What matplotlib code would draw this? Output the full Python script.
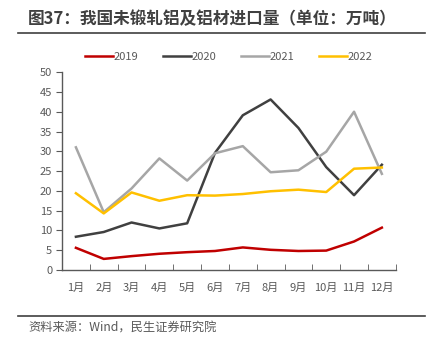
import numpy as np
import matplotlib.pyplot as plt
from matplotlib.lines import Line2D

plt.rcParams['font.family'] = ['Noto Sans CJK SC', 'DejaVu Sans']

months = ["1月", "2月", "3月", "4月", "5月", "6月",
          "7月", "8月", "9月", "10月", "11月", "12月"]
y2019 = [5.6, 2.8, 3.5, 4.1, 4.5, 4.8, 5.7, 5.1, 4.8, 4.9, 7.2, 10.7]
y2020 = [8.4, 9.6, 12.0, 10.5, 11.8, 29.6, 39.1, 43.1, 35.9, 26.0, 18.9, 26.6]
y2021 = [31.0, 14.6, 20.6, 28.2, 22.6, 29.5, 31.3, 24.7, 25.2, 29.9, 40.0, 24.3]
y2022 = [19.4, 14.3, 19.6, 17.5, 18.9, 18.8, 19.2, 19.9, 20.3, 19.7, 25.6, 25.9]

series = [("2019", y2019, "#C00000"),
          ("2020", y2020, "#404040"),
          ("2021", y2021, "#A6A6A6"),
          ("2022", y2022, "#FFC000")]

fig = plt.figure(figsize=(4.34, 3.52), dpi=100)
ax = fig.add_axes([0.1429, 0.233, 0.769, 0.562])

x = np.arange(len(months))
for name, vals, color in series:
    ax.plot(x, vals, color=color, lw=1.8, label=name)

ax.set_xlim(-0.5, 11.5)
ax.set_ylim(0, 50)
ax.set_yticks(range(0, 51, 5))
ax.set_xticks(x)
ax.set_xticklabels(months)
ax.set_xticks(np.arange(-0.5, 12, 1), minor=True)
ax.tick_params(axis='x', which='major', length=0, pad=9,
               labelsize=8, labelcolor="#595959")
ax.tick_params(axis='x', which='minor', length=4, direction='in',
               color="#595959")
ax.tick_params(axis='y', length=4, direction='out', color="#595959",
               labelsize=8, labelcolor="#595959", pad=3)

for s in ["top", "right"]:
    ax.spines[s].set_visible(False)
for s in ["left", "bottom"]:
    ax.spines[s].set_color("#595959")
    ax.spines[s].set_linewidth(1.0)

ax.legend(loc='lower center', bbox_to_anchor=(0.5, 1.0), ncol=4,
          frameon=False, fontsize=8, labelcolor="#595959",
          handlelength=2.5, columnspacing=2.2, handletextpad=0.1)

# title and source
fig.text(0.065, 0.945, "图37：我国未锻轧铝及铝材进口量（单位：万吨）",
         fontsize=12, fontweight='bold', color="#404040", va='center')
fig.add_artist(Line2D([0.042, 0.98], [0.905, 0.905], color="#404040",
                      lw=1.2, transform=fig.transFigure))
fig.add_artist(Line2D([0.042, 0.98], [0.102, 0.102], color="#404040",
                      lw=1.2, transform=fig.transFigure))
fig.text(0.065, 0.068, "资料来源：Wind，民生证券研究院",
         fontsize=8.8, color="#595959", va='center')

fig.savefig("out.png", dpi=100)
